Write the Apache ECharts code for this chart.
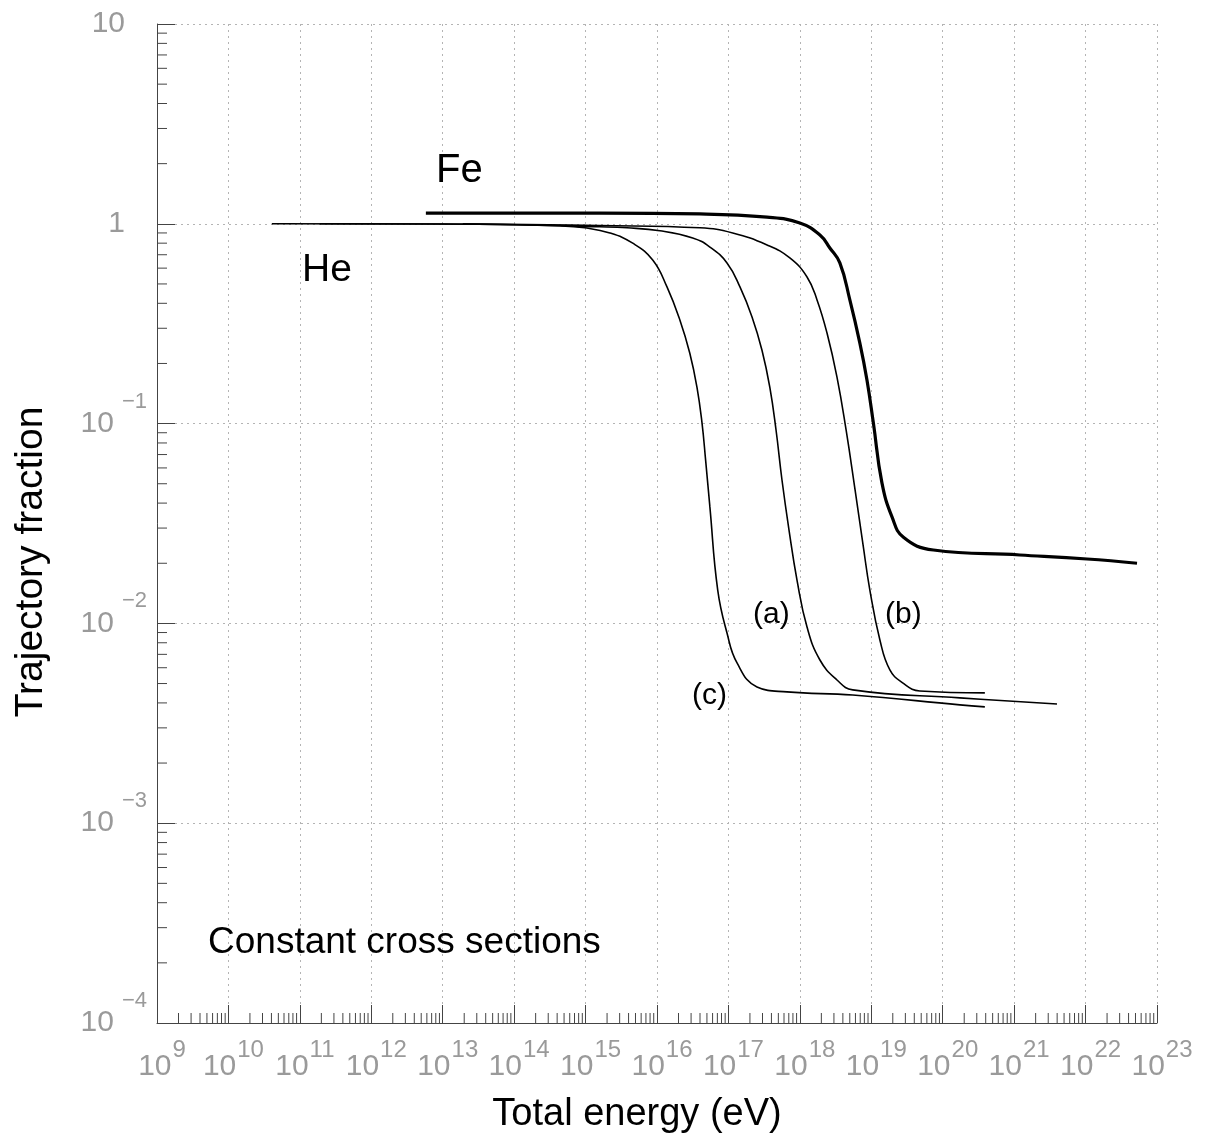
<!DOCTYPE html>
<html><head><meta charset="utf-8">
<script src="https://cdn.jsdelivr.net/npm/echarts@6/dist/echarts.min.js"></script>
<style>html,body{margin:0;padding:0;background:#fff}#c{width:1207px;height:1143px}</style>
</head><body><div id="c"></div>
<script>
// ---- data ----
const feEnergy   = [5.81e12, 1.58e15, 3.98e16, 3.47e17, 1.0e18, 1.91e18, 2.63e18, 3.63e18, 5.01e18, 6.92e18, 8.71e18, 1.07e19, 1.41e19, 1.95e19, 2.82e19, 7.41e19, 1.20e21, 1.05e22, 5.25e22];
const feFraction = [1.13, 1.13, 1.12, 1.08, 1.01, 0.879, 0.757, 0.637, 0.416, 0.253, 0.165, 0.1006, 0.0505, 0.0341, 0.0270, 0.0233, 0.0220, 0.0210, 0.0200];

const cEnergy   = [4.05e10, 3.16e13, 4.37e14, 9.77e14, 2.19e15, 4.57e15, 8.71e15, 1.38e16, 2.09e16, 2.88e16, 3.63e16, 4.27e16, 4.79e16, 5.50e16, 7.08e16, 9.55e16, 1.32e17, 2.51e17, 6.61e17, 5.50e18, 1.74e20, 3.89e20];
const cFraction = [1.0, 0.995, 0.977, 0.955, 0.90, 0.80, 0.659, 0.483, 0.330, 0.225, 0.152, 0.1006, 0.0658, 0.0383, 0.01469, 0.00895, 0.00634, 0.00481, 0.00454, 0.00438, 0.00391, 0.00382];

const aEnergy   = [1.91e11, 3.16e13, 1.58e15, 3.80e15, 1.10e16, 3.16e16, 5.50e16, 9.55e16, 1.45e17, 2.14e17, 2.95e17, 3.80e17, 4.64e17, 5.62e17, 7.05e17, 9.12e17, 1.26e18, 1.91e18, 3.31e18, 5.50e18, 1.74e20, 3.98e21];
const aFraction = [1.0, 0.995, 0.966, 0.955, 0.923, 0.85, 0.765, 0.637, 0.483, 0.342, 0.233, 0.152, 0.0929, 0.0522, 0.0293, 0.01648, 0.00959, 0.00656, 0.00521, 0.00465, 0.00424, 0.00395];

const bEnergy   = [1.91e13, 1.58e15, 3.98e16, 1.15e17, 3.47e17, 7.24e17, 1.26e18, 1.74e18, 2.40e18, 3.31e18, 4.44e18, 5.93e18, 7.67e18, 9.55e18, 1.32e19, 1.82e19, 2.75e19, 4.79e19, 3.89e20];
const bFraction = [1.0, 0.98, 0.955, 0.90, 0.784, 0.675, 0.542, 0.416, 0.284, 0.171, 0.0929, 0.0466, 0.0247, 0.01469, 0.00826, 0.00585, 0.00504, 0.00459, 0.00449];

// tick labels (exponents of ten)
const xTickExponents = [9,10,11,12,13,14,15,16,17,18,19,20,21,22,23];
const yTickExponents = [1,0,-1,-2,-3,-4];
const minorMultipliers = [2,3,4,5,6,7,8,9];

// ---- chart ----
const FONT = "'Liberation Sans', Arial, Helvetica, sans-serif";
const LABEL_GRAY = '#9a9a9a';
const AXIS_DARK = '#444';
const X_MIN = Math.pow(10, xTickExponents[0]), X_MAX = Math.pow(10, xTickExponents[xTickExponents.length-1]);
const Y_MIN = Math.pow(10, yTickExponents[yTickExponents.length-1]), Y_MAX = Math.pow(10, yTickExponents[0]);

const minorX = [], minorY = [];
for (let i = 0; i < xTickExponents.length - 1; i++)
  minorMultipliers.forEach(k => minorX.push([k * Math.pow(10, xTickExponents[i]), Y_MIN]));
for (let i = yTickExponents.length - 1; i > 0; i--)
  minorMultipliers.forEach(k => minorY.push([X_MIN, k * Math.pow(10, yTickExponents[i])]));

const pairs = (xs, ys) => xs.map((x, i) => [x, ys[i]]);
const expOf = v => Math.round(Math.log10(v));

const chart = echarts.init(document.getElementById('c'), null, {renderer: 'canvas'});

function tickSeries(data, dir) {
  return {
    type: 'custom', data: data, silent: true, z: 3, clip: false,
    encode: {x: 0, y: 1},
    renderItem: function (params, api) {
      const p = api.coord([api.value(0), api.value(1)]);
      const shape = dir === 'x'
        ? {x1: p[0], y1: p[1], x2: p[0], y2: p[1] - 10}
        : {x1: p[0], y1: p[1], x2: p[0] + 10, y2: p[1]};
      return {type: 'line', shape: shape, style: {stroke: AXIS_DARK, lineWidth: 1}};
    }
  };
}

function curve(name, xs, ys, width) {
  return {
    name: name, type: 'line', data: pairs(xs, ys), showSymbol: false, symbol: 'none',
    smooth: 0.45, z: 5,
    lineStyle: {color: '#000', width: width}
  };
}

const txt = (text, x, y, size, extra) => Object.assign({
  type: 'text', x: x, y: y, silent: true, z: 100,
  style: Object.assign({text: text, font: size + 'px ' + FONT, fill: '#000',
    textAlign: 'left', textVerticalAlign: 'middle', align: 'left', verticalAlign: 'middle'}, (extra && extra.style) || {})
}, extra ? {rotation: extra.rotation || 0} : {});

chart.setOption({
  animation: false,
  backgroundColor: '#fff',
  grid: {left: 157, right: 50, top: 24, bottom: 120, containLabel: false},
  xAxis: {
    type: 'log', logBase: 10, min: X_MIN, max: X_MAX, interval: 1, splitNumber: 14,
    axisLine: {show: true, onZero: false, lineStyle: {color: AXIS_DARK, width: 1}},
    axisTick: {show: true, inside: true, length: 18, lineStyle: {color: AXIS_DARK}},
    splitLine: {show: true, lineStyle: {color: '#b4b4b4', type: [2, 4], width: 1}},
    axisLabel: {
      margin: 29, showMinLabel: true, showMaxLabel: true, hideOverlap: false,
      formatter: v => '{b|10}{s|' + expOf(v) + '}',
      rich: {
        b: {fontSize: 30, fontFamily: FONT, color: LABEL_GRAY, lineHeight: 30, verticalAlign: 'bottom', padding: [0, 0, 0, 10]},
        s: {fontSize: 24, fontFamily: FONT, color: LABEL_GRAY, lineHeight: 24, verticalAlign: 'bottom', padding: [0, 0, 20, 1]}
      }
    }
  },
  yAxis: {
    type: 'log', logBase: 10, min: Y_MIN, max: Y_MAX, interval: 1, splitNumber: 5,
    axisLine: {show: true, onZero: false, lineStyle: {color: AXIS_DARK, width: 1}},
    axisTick: {show: true, inside: true, length: 18, lineStyle: {color: AXIS_DARK}},
    splitLine: {show: true, lineStyle: {color: '#b4b4b4', type: [2, 4], width: 1}},
    axisLabel: {
      margin: 10, showMinLabel: true, showMaxLabel: true, hideOverlap: false,
      formatter: v => {
        const e = expOf(v);
        if (e === 0) return '{b|1}{p| }';
        if (e === 1) return '{b|10}{p| }';
        return '{b|10}{s|\u2212' + (-e) + '}';
      },
      rich: {
        b: {fontSize: 30, fontFamily: FONT, color: LABEL_GRAY, lineHeight: 30, verticalAlign: 'middle'},
        s: {fontSize: 22, fontFamily: FONT, color: LABEL_GRAY, lineHeight: 22, verticalAlign: 'middle', padding: [0, 0, 44, 8]},
        p: {width: 22, fontSize: 21, lineHeight: 21}
      }
    }
  },
  series: [
    tickSeries(minorX, 'x'),
    tickSeries(minorY, 'y'),
    curve('c', cEnergy, cFraction, 1.6),
    curve('a', aEnergy, aFraction, 1.6),
    curve('b', bEnergy, bFraction, 1.6),
    curve('Fe', feEnergy, feFraction, 3.2)
  ],
  graphic: [
    txt('Total energy (eV)', 637, 1115, 38, {style: {textAlign: 'center', align: 'center'}}),
    txt('Trajectory fraction', 31, 562, 39, {rotation: Math.PI / 2, style: {textAlign: 'center', align: 'center'}}),
    txt('Constant cross sections', 208, 943, 37),
    txt('Fe', 436, 171, 40),
    txt('He', 302, 270, 39),
    txt('(a)', 753, 615, 30),
    txt('(b)', 885, 615, 30),
    txt('(c)', 692, 696, 30)
  ]
});
</script></body></html>
